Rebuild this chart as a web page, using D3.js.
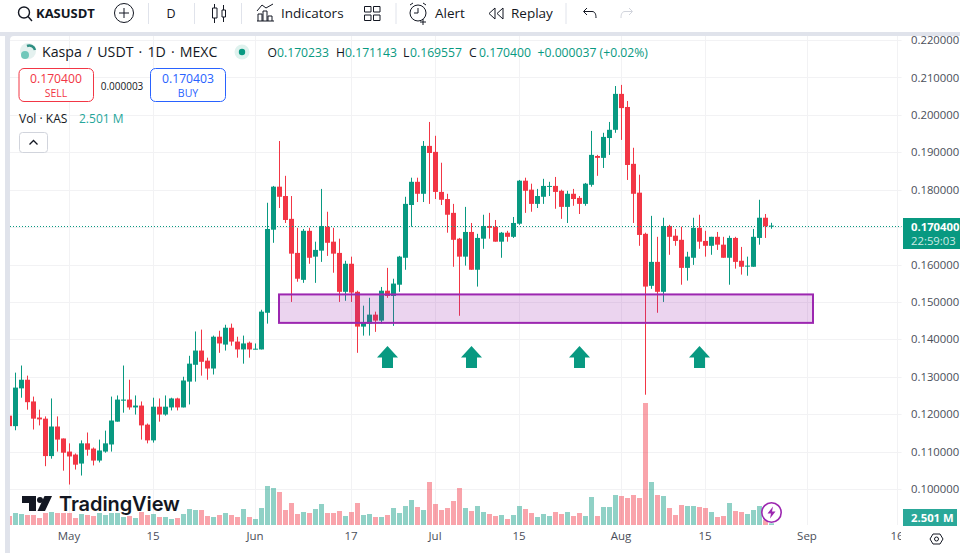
<!DOCTYPE html>
<html>
<head>
<meta charset="utf-8">
<script src="https://cdn.jsdelivr.net/npm/d3@7"></script>
<style>
  html, body { margin: 0; padding: 0; background: #fff; overflow: hidden; }
  text { font-family: "Open Sans", sans-serif; }
  .axis path, .axis line { display: none; }
</style>
</head>
<body>
<svg id="vis" width="960" height="553"></svg>
<script>
// KAS/USDT daily, 2024-04-21 onwards
var firstDay = "2024-04-21"

var opens = [
  .1196,.1168,.1269,.1292,.1234,.1191,.1188,.1088,.1167,.1135,
  .1100,.1092,.1068,.1122,.1108,.1076,.1100,.1119,.1180,.1236,
  .1239,.1218,.1223,.1172,.1130,.1220,.1199,.1218,.1242,.1218,
  .1287,.1332,.1370,.1343,.1322,.1407,.1386,.1431,.1394,.1373,
  .1391,.1373,.1373,.1471,.1693,.1808,.1783,.1722,.1631,.1559,
  .1690,.1621,.1637,.1701,.1661,.1631,.1527,.1602,.1527,.1434,
  .1442,.1466,.1450,.1530,.1516,.1546,.1618,.1759,.1821,.1789,
  .1917,.1901,.1794,.1775,.1738,.1669,.1621,.1687,.1586,.1669,
  .1703,.1701,.1661,.1685,.1674,.1709,.1824,.1800,.1762,.1781,
  .1808,.1810,.1797,.1754,.1789,.1778,.1762,.1813,.1890,.1885,
  .1938,.1960,.2056,.2021,.1869,.1792,.1682,.1543,.1607,.1527,
  .1703,.1677,.1666,.1591,.1618,.1698,.1663,.1650,.1674,.1653,
  .1618,.1671,.1610,.1595,.1594,.1671,.1725,.170233
]
var highs = [
  .1196,.1311,.1330,.1303,.1247,.1212,.1194,.1242,.1194,.1135,
  .1122,.1095,.1130,.1151,.1111,.1132,.1156,.1247,.1250,.1330,
  .1292,.1250,.1234,.1175,.1244,.1242,.1250,.1244,.1244,.1300,
  .1356,.1421,.1426,.1351,.1410,.1423,.1439,.1442,.1407,.1410,
  .1394,.1389,.1479,.1765,.1810,.1930,.1837,.1783,.1698,.1695,
  .1698,.1661,.1802,.1741,.1698,.1669,.1610,.1621,.1530,.1490,
  .1511,.1474,.1540,.1591,.1562,.1623,.1781,.1832,.1832,.1930,
  .1981,.1944,.1872,.1789,.1762,.1671,.1754,.1711,.1682,.1733,
  .1738,.1719,.1687,.1690,.1727,.1826,.1832,.1816,.1802,.1829,
  .1821,.1834,.1800,.1797,.1802,.1783,.1818,.1957,.1893,.1952,
  .1981,.2077,.2080,.2037,.1912,.1840,.1685,.1730,.1674,.1725,
  .1706,.1695,.1701,.1634,.1725,.1733,.1690,.1674,.1687,.1674,
  .1677,.1674,.1647,.1621,.1695,.1773,.1735,.171143
]
var lows = [
  .1168,.1157,.1244,.1212,.1159,.1170,.1061,.1081,.1100,.1049,
  .1012,.1052,.1036,.1089,.1063,.1071,.1097,.1100,.1180,.1204,
  .1212,.1199,.1132,.1122,.1124,.1180,.1196,.1210,.1210,.1218,
  .1226,.1287,.1303,.1292,.1306,.1364,.1370,.1383,.1351,.1335,
  .1351,.1373,.1373,.1442,.1658,.1751,.1711,.1500,.1554,.1551,
  .1602,.1551,.1607,.1623,.1578,.1500,.1503,.1500,.1364,.1410,
  .1410,.1420,.1442,.1511,.1436,.1527,.1586,.1701,.1767,.1767,
  .1762,.1775,.1759,.1685,.1594,.1463,.1597,.1586,.1541,.1642,
  .1669,.1661,.1618,.1661,.1671,.1706,.1738,.1741,.1751,.1762,
  .1783,.1749,.1722,.1711,.1757,.1735,.1757,.1808,.1837,.1858,
  .1893,.1952,.1933,.1826,.1711,.1650,.1252,.1535,.1471,.1500,
  .1626,.1650,.1546,.1557,.1599,.1642,.1621,.1626,.1639,.1618,
  .1546,.1589,.1573,.1570,.1594,.1653,.1671,.169557
]
var closes = [
  .1168,.1271,.1292,.1232,.1188,.1186,.1088,.1167,.1132,.1097,
  .1087,.1065,.1122,.1105,.1076,.1103,.1122,.1183,.1239,.1239,
  .1218,.1223,.1170,.1130,.1220,.1199,.1220,.1242,.1218,.1290,
  .1335,.1370,.1340,.1322,.1407,.1389,.1431,.1394,.1373,.1389,
  .1373,.1375,.1474,.1695,.1808,.1781,.1719,.1629,.1562,.1690,
  .1618,.1639,.1703,.1658,.1629,.1527,.1602,.1525,.1434,.1444,
  .1466,.1450,.1530,.1516,.1549,.1621,.1762,.1821,.1789,.1917,
  .1898,.1794,.1773,.1733,.1666,.1621,.1687,.1586,.1671,.1703,
  .1698,.1661,.1685,.1674,.1711,.1824,.1797,.1762,.1783,.1810,
  .1810,.1794,.1754,.1789,.1775,.1762,.1816,.1893,.1885,.1941,
  .1960,.2056,.2018,.1866,.1789,.1679,.1541,.1607,.1527,.1703,
  .1674,.1663,.1591,.1621,.1698,.1661,.1650,.1674,.1653,.1618,
  .1671,.1607,.1594,.1597,.1674,.1725,.1702,.170400
]
// volume in millions
var volumes = [
  13.5,18,16.5,15,15,10.5,18,19.5,18,18,
  18,10.5,16.5,15,13.5,18,15,18,18,12,
  13.5,10.5,19.5,15,16.5,12,12,9,10.5,16.5,
  24,22.5,22.5,13.5,12,15,18,15,12,24,
  12,9,25.5,58.5,55.5,49.5,22.5,33,16.5,19.5,
  18,24,31.5,18,18,21,13.5,19.5,33,15,
  16.5,12,12,15,25.5,18,28.5,37.5,27,22.5,
  64.5,31.5,22.5,25.5,36,55.5,25.5,21,28.5,19.5,
  16.5,13.5,15,9,15,28.5,24,18,12,16.5,
  13.5,19.5,16.5,19.5,13.5,18,13.5,42,13.5,27,
  27,45,43.5,40.5,45,40.5,183,64.5,45,43.5,
  25.5,15,30,28.5,28.5,27,25.5,19.5,12,13.5,
  33,21,19.5,16.5,22.5,28.5,7.5,2.501
]

var priceTicks = [.22,.21,.20,.19,.18,.16,.15,.14,.13,.12,.11,.10]
var gridPrices = [.22,.21,.20,.19,.18,.17,.16,.15,.14,.13,.12,.11,.10]
var timeTicks = ["2024-05-01","2024-05-15","2024-06-01","2024-06-17","2024-07-01","2024-07-15","2024-08-01","2024-08-15","2024-09-01","2024-09-16"]
var timeLabels = ["May","15","Jun","17","Jul","15","Aug","15","Sep","16"]
var lastPrice = 0.1704

var zone = { from: "2024-06-05", to: "2024-09-02", top: 0.1520, bottom: 0.1444 }
var arrowDays = ["2024-06-23","2024-07-07","2024-07-25","2024-08-14"]
var arrowTip = 0.1382

var GREEN = "#089981", RED = "#F23645", INK = "#131722", AXIS_INK = "#4a4e59"
var parseDay = d3.utcParse("%Y-%m-%d")

var svg = d3.select("#vis")

var x = d3.scaleUtc().domain([parseDay("2024-05-01"), parseDay("2024-09-01")]).range([69, 807])
var y = d3.scaleLinear().domain([.22, .10]).range([40, 489])
var volY = d3.scaleLinear().domain([0, 183]).range([525, 403])

var candles = opens.map(function(o, i) {
  return { day: d3.utcDay.offset(parseDay(firstDay), i), o: o, h: highs[i], l: lows[i], c: closes[i], v: volumes[i] }
})
function col(d) { return d.c >= d.o ? GREEN : RED }

svg.append("rect").attr("width", 960).attr("height", 553).attr("fill", "#fff")

svg.append("clipPath").attr("id", "pane").append("rect")
  .attr("x", 10).attr("y", 36).attr("width", 891.5).attr("height", 489)

// grid
var grid = svg.append("g").attr("clip-path", "url(#pane)")
grid.selectAll(".gh").data(gridPrices).join("line")
  .attr("x1", 10).attr("x2", 902)
  .attr("y1", function(d) { return Math.round(y(d)) + .5 })
  .attr("y2", function(d) { return Math.round(y(d)) + .5 })
  .attr("stroke", "#f2f2f4")
grid.selectAll(".gv").data(timeTicks).join("line")
  .attr("x1", function(d) { return Math.round(x(parseDay(d))) + .5 })
  .attr("x2", function(d) { return Math.round(x(parseDay(d))) + .5 })
  .attr("y1", 36).attr("y2", 525)
  .attr("stroke", "#f2f2f4")

// axes
var priceAxis = d3.axisRight(y).tickValues(priceTicks).tickFormat(d3.format(".6f")).tickSize(0).tickPadding(0)
svg.append("g").attr("class", "axis").attr("transform", "translate(911,0)").call(priceAxis)
  .selectAll("text").attr("font-size", 11.3).attr("fill", AXIS_INK).attr("font-family", "Open Sans")

svg.append("clipPath").attr("id", "timeclip").append("rect")
  .attr("x", 0).attr("y", 525).attr("width", 901).attr("height", 28)
var timeAxis = d3.axisBottom(x).tickValues(timeTicks.map(parseDay))
  .tickFormat(function(d, i) { return timeLabels[i] }).tickSize(0).tickPadding(0)
svg.append("g").attr("class", "axis").attr("clip-path", "url(#timeclip)")
  .append("g").attr("transform", "translate(-.5,532)").call(timeAxis)
  .selectAll("text").attr("font-size", 11.5).attr("fill", AXIS_INK).attr("font-family", "Open Sans")

var plot = svg.append("g").attr("clip-path", "url(#pane)")

// volume
plot.selectAll(".vol").data(candles).join("rect")
  .attr("x", function(d) { return Math.round(x(d.day)) - 2 })
  .attr("width", 5)
  .attr("y", function(d) { return volY(d.v) })
  .attr("height", function(d) { return volY(0) - volY(d.v) })
  .attr("fill", col).attr("fill-opacity", .45)

// watermark
var mark = svg.append("g").attr("fill", INK)
mark.append("path").attr("d", "M22 496H36V511H29V503H22Z")
mark.append("circle").attr("cx", 40).attr("cy", 500).attr("r", 3)
mark.append("path").attr("d", "M44.5 496H52L45 511H37.5Z")
mark.append("text").attr("x", 59).attr("y", 511).attr("font-size", 20).attr("font-weight", 600)
  .attr("letter-spacing", -.1).style("font-family", "Inter").text("TradingView")

// candles
plot.selectAll(".wick").data(candles).join("rect")
  .attr("x", function(d) { return Math.round(x(d.day)) })
  .attr("width", 1)
  .attr("y", function(d) { return y(d.h) })
  .attr("height", function(d) { return y(d.l) - y(d.h) })
  .attr("fill", col)
plot.selectAll(".body").data(candles).join("rect")
  .attr("x", function(d) { return Math.round(x(d.day)) - 2 })
  .attr("width", 5)
  .attr("y", function(d) { return y(Math.max(d.o, d.c)) })
  .attr("height", function(d) { return Math.max(1, Math.abs(y(d.o) - y(d.c))) })
  .attr("fill", col)

// last price line
plot.append("line")
  .attr("x1", 10).attr("x2", 902)
  .attr("y1", Math.round(y(lastPrice)) + .5).attr("y2", Math.round(y(lastPrice)) + .5)
  .attr("stroke", GREEN).attr("stroke-dasharray", "1 2")

// support zone
plot.append("rect")
  .attr("x", x(parseDay(zone.from)))
  .attr("width", x(parseDay(zone.to)) - x(parseDay(zone.from)))
  .attr("y", y(zone.top))
  .attr("height", y(zone.bottom) - y(zone.top))
  .attr("fill", "#9c27b0").attr("fill-opacity", .2)
  .attr("stroke", "#9c27b0").attr("stroke-width", 2)

// arrows
plot.selectAll(".arrow").data(arrowDays).join("path")
  .attr("transform", function(d) { return "translate(" + (Math.round(x(parseDay(d))) + .5) + "," + y(arrowTip) + ")" })
  .attr("d", "M0 0L10.5 11.5H5.5V22H-5.5V11.5H-10.5Z")
  .attr("fill", GREEN)

// lightning badge
var bolt = svg.append("g").attr("transform", "translate(771.5,512.5)")
bolt.append("circle").attr("r", 9.7).attr("fill", "#fff").attr("stroke", "#9c27b0").attr("stroke-width", 1.6)
bolt.append("path").attr("d", "M1.5 -6L-4 1H-.5L-1.5 6L4 -1H.5Z").attr("fill", "#9c27b0")

// pane chrome
svg.append("rect").attr("x", 0).attr("y", 32).attr("width", 960).attr("height", 4).attr("fill", "#e0e3eb")
svg.append("rect").attr("x", 5).attr("y", 36).attr("width", 5).attr("height", 517).attr("fill", "#e0e3eb")
svg.append("path").attr("d", "M10 36H14A4 4 0 0 0 10 40Z").attr("fill", "#e0e3eb")

// last price and volume labels
svg.append("rect").attr("x", 903).attr("y", 218).attr("width", 57).attr("height", 31).attr("fill", GREEN)
svg.append("text").attr("x", 911).attr("y", 231).attr("font-size", 11.3).attr("font-weight", 700).attr("fill", "#fff")
  .text(d3.format(".6f")(lastPrice))
svg.append("text").attr("x", 911).attr("y", 245).attr("font-size", 11.3).attr("fill", "#cdeae4").text("22:59:03")
svg.append("rect").attr("x", 903).attr("y", 509).attr("width", 54).attr("height", 17).attr("fill", "#2aa899")
svg.append("text").attr("x", 911).attr("y", 522).attr("font-size", 11.3).attr("font-weight", 700).attr("fill", "#fff").text("2.501 M")

// hexagon settings button
svg.append("path").attr("d", "M930 539L933 534H940L943 539L940 544H933Z").attr("fill", "none").attr("stroke", INK)
svg.append("circle").attr("cx", 936.5).attr("cy", 539).attr("r", 2).attr("fill", "none").attr("stroke", INK)

// header legend
function label(tx, ty, size, fill, str, weight, anchor) {
  return svg.append("text").attr("x", tx).attr("y", ty).attr("font-size", size).attr("fill", fill)
    .attr("font-weight", weight || 400).attr("text-anchor", anchor || "start").text(str)
}
svg.append("circle").attr("cx", 28).attr("cy", 51).attr("r", 8).attr("fill", "#e4f1ef")
svg.append("circle").attr("cx", 25).attr("cy", 55).attr("r", 4).attr("fill", "#70c7ba")
svg.append("path").attr("d", "M27 46A6 6 0 0 1 35 50").attr("fill", "none").attr("stroke", "#2f8f83").attr("stroke-width", 2.5)
label(42, 57, 14.2, INK, "Kaspa / USDT · 1D · MEXC").attr("word-spacing", 1.4)
svg.append("circle").attr("cx", 242).attr("cy", 52).attr("r", 7.5).attr("fill", "#dff2ee")
svg.append("circle").attr("cx", 242).attr("cy", 52).attr("r", 3.2).attr("fill", GREEN)

var ohlcY = 57
label(267.5, ohlcY, 12.2, INK, "O")
label(277, ohlcY, 12.2, GREEN, "0.170233")
label(336, ohlcY, 12.2, INK, "H")
label(345, ohlcY, 12.2, GREEN, "0.171143")
label(403, ohlcY, 12.2, INK, "L")
label(410, ohlcY, 12.2, GREEN, "0.169557")
label(469, ohlcY, 12.2, INK, "C")
label(479, ohlcY, 12.2, GREEN, "0.170400")
label(537.5, ohlcY, 12.2, GREEN, "+0.000037 (+0.02%)")

svg.append("rect").attr("x", 19).attr("y", 68.5).attr("width", 74.5).attr("height", 33).attr("rx", 5)
  .attr("fill", "#fff").attr("stroke", RED)
label(56, 83, 12.2, RED, "0.170400", 400, "middle")
label(56, 97, 10.5, RED, "SELL", 400, "middle")
label(122, 90, 10, INK, "0.000003", 400, "middle")
svg.append("rect").attr("x", 150.5).attr("y", 68.5).attr("width", 75).attr("height", 33).attr("rx", 5)
  .attr("fill", "#fff").attr("stroke", "#2962ff")
label(188, 83, 12.2, "#2962ff", "0.170403", 400, "middle")
label(188, 97, 10.5, "#2962ff", "BUY", 400, "middle")

label(19, 123, 12, INK, "Vol · KAS")
label(79, 123, 12, "#26a69a", "2.501 M")
svg.append("rect").attr("x", 19.5).attr("y", 132.5).attr("width", 28).attr("height", 20).attr("rx", 3)
  .attr("fill", "#fff").attr("stroke", "#d1d4dc")
svg.append("path").attr("d", "M29.5 144.5L33.5 140.5L37.5 144.5").attr("fill", "none").attr("stroke", INK).attr("stroke-width", 1.3)

// toolbar
label(36, 18, 13, INK, "KASUSDT", 700)
label(171, 18, 12.5, INK, "D", 400, "middle")
label(281, 18, 13.5, INK, "Indicators")
label(435, 18, 13.5, INK, "Alert")
label(511, 18, 13.5, INK, "Replay")

var icons = svg.append("g").attr("fill", "none").attr("stroke", INK)
icons.append("circle").attr("cx", 24).attr("cy", 12.5).attr("r", 5.5).attr("stroke-width", 1.4)
icons.append("path").attr("d", "M28 16.5L32 21").attr("stroke-width", 1.4)
icons.append("circle").attr("cx", 124).attr("cy", 13).attr("r", 9.5)
icons.append("path").attr("d", "M119 13H129M124 8V18")
icons.selectAll(".sep").data([148.5, 194.5, 241.5, 396, 566]).join("path")
  .attr("d", function(d) { return "M" + d + " 3V24" }).attr("stroke", "#e0e3eb")
icons.append("path").attr("d", "M212.5 8H217V18H212.5ZM214.5 4V8M214.5 18V23M222 10H225.5V17H222ZM223.5 5V10M223.5 17V22")
icons.append("path").attr("d", "M258 21V14H262V21M263 21V11H267V21M268 21V16H272V21M257 21H274M257 11L262 5L266 8L273 4")
icons.append("path").attr("d", "M364.5 6.5H371V12H364.5ZM373.5 6.5H380V12H373.5ZM364.5 15H371V20.5H364.5ZM373.5 15H380V20.5H373.5Z")
icons.append("circle").attr("cx", 418).attr("cy", 13).attr("r", 8)
icons.append("path").attr("d", "M418 8V13H414M410 5L413 3M426 5L423 3M423 19V25M420 22H426")
icons.append("path").attr("d", "M495 8L489 13.5L495 19ZM503 8L497 13.5L503 19Z")
icons.append("path").attr("d", "M587 8L583.5 11.5L587 15M584 11.5H592C595 11.5 596 14 596 18")
icons.append("path").attr("d", "M629 8L632.5 11.5L629 15M632 11.5H625C622 11.5 621 14 621 18").attr("stroke", "#d1d4dc")
</script>
</body>
</html>
